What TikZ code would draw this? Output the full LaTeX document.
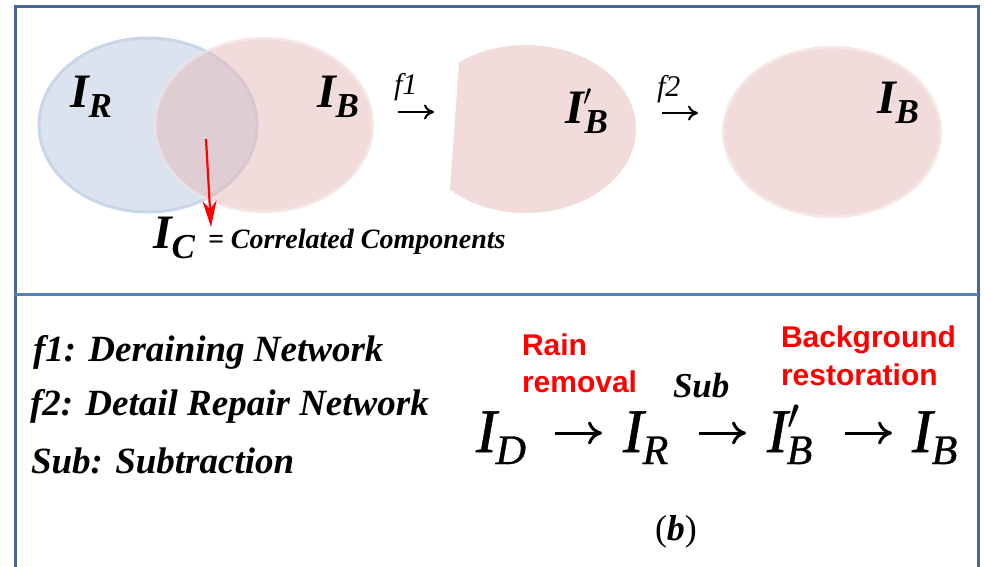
\RequirePackage{fix-cm}
\documentclass[tikz,border=0pt]{standalone}
\usepackage{fontspec}
\setmainfont{Liberation Serif}
\newfontfamily\arialfont{Liberation Sans}
\newfontfamily\eqfont[FakeBold=0.8]{Liberation Serif}
\usetikzlibrary{arrows.meta}
\definecolor{framecol}{RGB}{70,104,152}
\definecolor{divcol}{RGB}{84,128,190}
\definecolor{bluefill}{RGB}{218,227,239}
\definecolor{blueedge}{RGB}{200,214,234}
\definecolor{pinkbase}{RGB}{230,185,185}
\definecolor{redtxt}{RGB}{255,0,0}
\newcommand\fsz[1]{\fontsize{#1}{#1}\selectfont}
\newcommand\toplbl[1]{{\fsz{48}\bfseries\itshape I}\raisebox{-10pt}{\fsz{35}\bfseries\itshape #1}}
\newcommand\eqI[1]{{\fsz{62}\eqfont\itshape I}\kern-1pt\raisebox{-12pt}{\fsz{42}\eqfont\itshape #1}}
\begin{document}
\begin{tikzpicture}[x=1pt,y=-1pt,
  txt/.style={inner sep=0pt,outer sep=0pt,anchor=base west},
  framestyle/.style={draw=framecol,line width=3pt},
  divstyle/.style={draw=divcol,line width=3pt},
  pinkshape/.style={fill=pinkbase,fill opacity=0.5},
  pinkring/.style={draw=white,draw opacity=0.35,line width=3pt},
  smallarrow/.style={draw=black,line width=2pt,-{To[length=10pt,width=15pt]}},
  eqarrow/.style={draw=black,line width=3pt,-{To[length=14pt,width=23pt]}},
  redarrow/.style={draw=red,line width=2.2pt,-{Stealth[length=26pt,width=14pt,inset=8pt]}}]
\useasboundingbox (0,0) rectangle (984,566);
\fill[white] (0,0) rectangle (984,566);
% frame
\draw[framestyle] (15,567) -- (15,6) -- (978,6) -- (978,567);
\draw[divstyle] (15,294) -- (978,294);
% ellipses
\fill[bluefill] (148,125) ellipse [x radius=110, y radius=88];
\draw[blueedge,line width=3pt] (148,125) ellipse [x radius=109, y radius=87];
\fill[pinkshape] (264,125) ellipse [x radius=110, y radius=88];
\draw[pinkring] (264,125) ellipse [x radius=109, y radius=87];
\begin{scope}
\clip (463.4,0) -- (445.1,260) -- (700,260) -- (700,0) -- cycle;
\fill[pinkshape] (526,129) ellipse [x radius=110, y radius=84];
\end{scope}
\fill[pinkshape] (832,132) ellipse [x radius=110, y radius=86];
\draw[pinkring] (832,132) ellipse [x radius=109, y radius=85];
% top labels
\node[txt] (lIR) at (70,107) {\toplbl{R}};
\node[txt] (lIB1) at (317,107) {\toplbl{B}};
\node[txt] (lIBp) at (565,123) {{\fsz{48}\bfseries\itshape I}\rlap{\raisebox{18pt}{\fsz{30}$\prime$}}\kern1pt\raisebox{-10pt}{\fsz{35}\bfseries\itshape B}};
\node[txt] (lIB2) at (877,113) {\toplbl{B}};
\node[txt] (lf1) at (394,94) {\fsz{30}\itshape f1};
\coordinate (af1s) at (398,112);
\coordinate (af1e) at (434,112);
\draw[smallarrow] (af1s) -- (af1e);
\node[txt] (lf2) at (657,96) {\fsz{30}\itshape f2};
\coordinate (af2s) at (662,113);
\coordinate (af2e) at (698,113);
\draw[smallarrow] (af2s) -- (af2e);
% correlated components
\node[txt] (lIC) at (153,248) {{\fsz{48}\bfseries\itshape I}\raisebox{-10pt}{\fsz{35}\bfseries\itshape C}};
\node[txt] (lcc) at (208,248) {\fsz{28}\bfseries\itshape = Correlated Components};
\coordinate (rs) at (206,139);
\coordinate (re) at (211,227);
\draw[redarrow] (rs) -- (re);
% legend
\node[txt] (leg1) at (33,361) {\fsz{37}\bfseries\itshape f1: Deraining Network};
\node[txt] (leg2) at (30,415) {\fsz{37}\bfseries\itshape f2: Detail Repair Network};
\node[txt] (leg3) at (31,473) {\fsz{37}\bfseries\itshape Sub: Subtraction};
% red notes
\node[txt] (rain) at (522,355) {\fsz{30}\arialfont\bfseries\color{redtxt}Rain};
\node[txt] (removal) at (522,392) {\fsz{30}\arialfont\bfseries\color{redtxt}removal};
\node[txt] (backg) at (781,347) {\fsz{30}\arialfont\bfseries\color{redtxt}Background};
\node[txt] (restor) at (781,385) {\fsz{30}\arialfont\bfseries\color{redtxt}restoration};
\node[txt] (sub) at (673,397) {\fsz{35}\bfseries\itshape Sub};
% equation
\node[txt] (eID) at (476,452) {\eqI{D}};
\coordinate (ea1s) at (555,433);
\coordinate (ea1e) at (602,433);
\draw[eqarrow] (ea1s) -- (ea1e);
\node[txt] (eIR) at (623,452) {\eqI{R}};
\coordinate (ea2s) at (699,433);
\coordinate (ea2e) at (746,433);
\draw[eqarrow] (ea2s) -- (ea2e);
\node[txt] (eIBp) at (767,452) {{\fsz{62}\eqfont\itshape I}\rlap{\raisebox{23pt}{\fsz{44}$\prime$}}\kern-1pt\raisebox{-12pt}{\fsz{42}\eqfont\itshape B}};
\coordinate (ea3s) at (845,433);
\coordinate (ea3e) at (892,433);
\draw[eqarrow] (ea3s) -- (ea3e);
\node[txt] (eIB) at (912,452) {\eqI{B}};
\node[txt] (capb) at (655,540) {\fsz{36}({\bfseries\itshape b})};
\end{tikzpicture}
\end{document}
